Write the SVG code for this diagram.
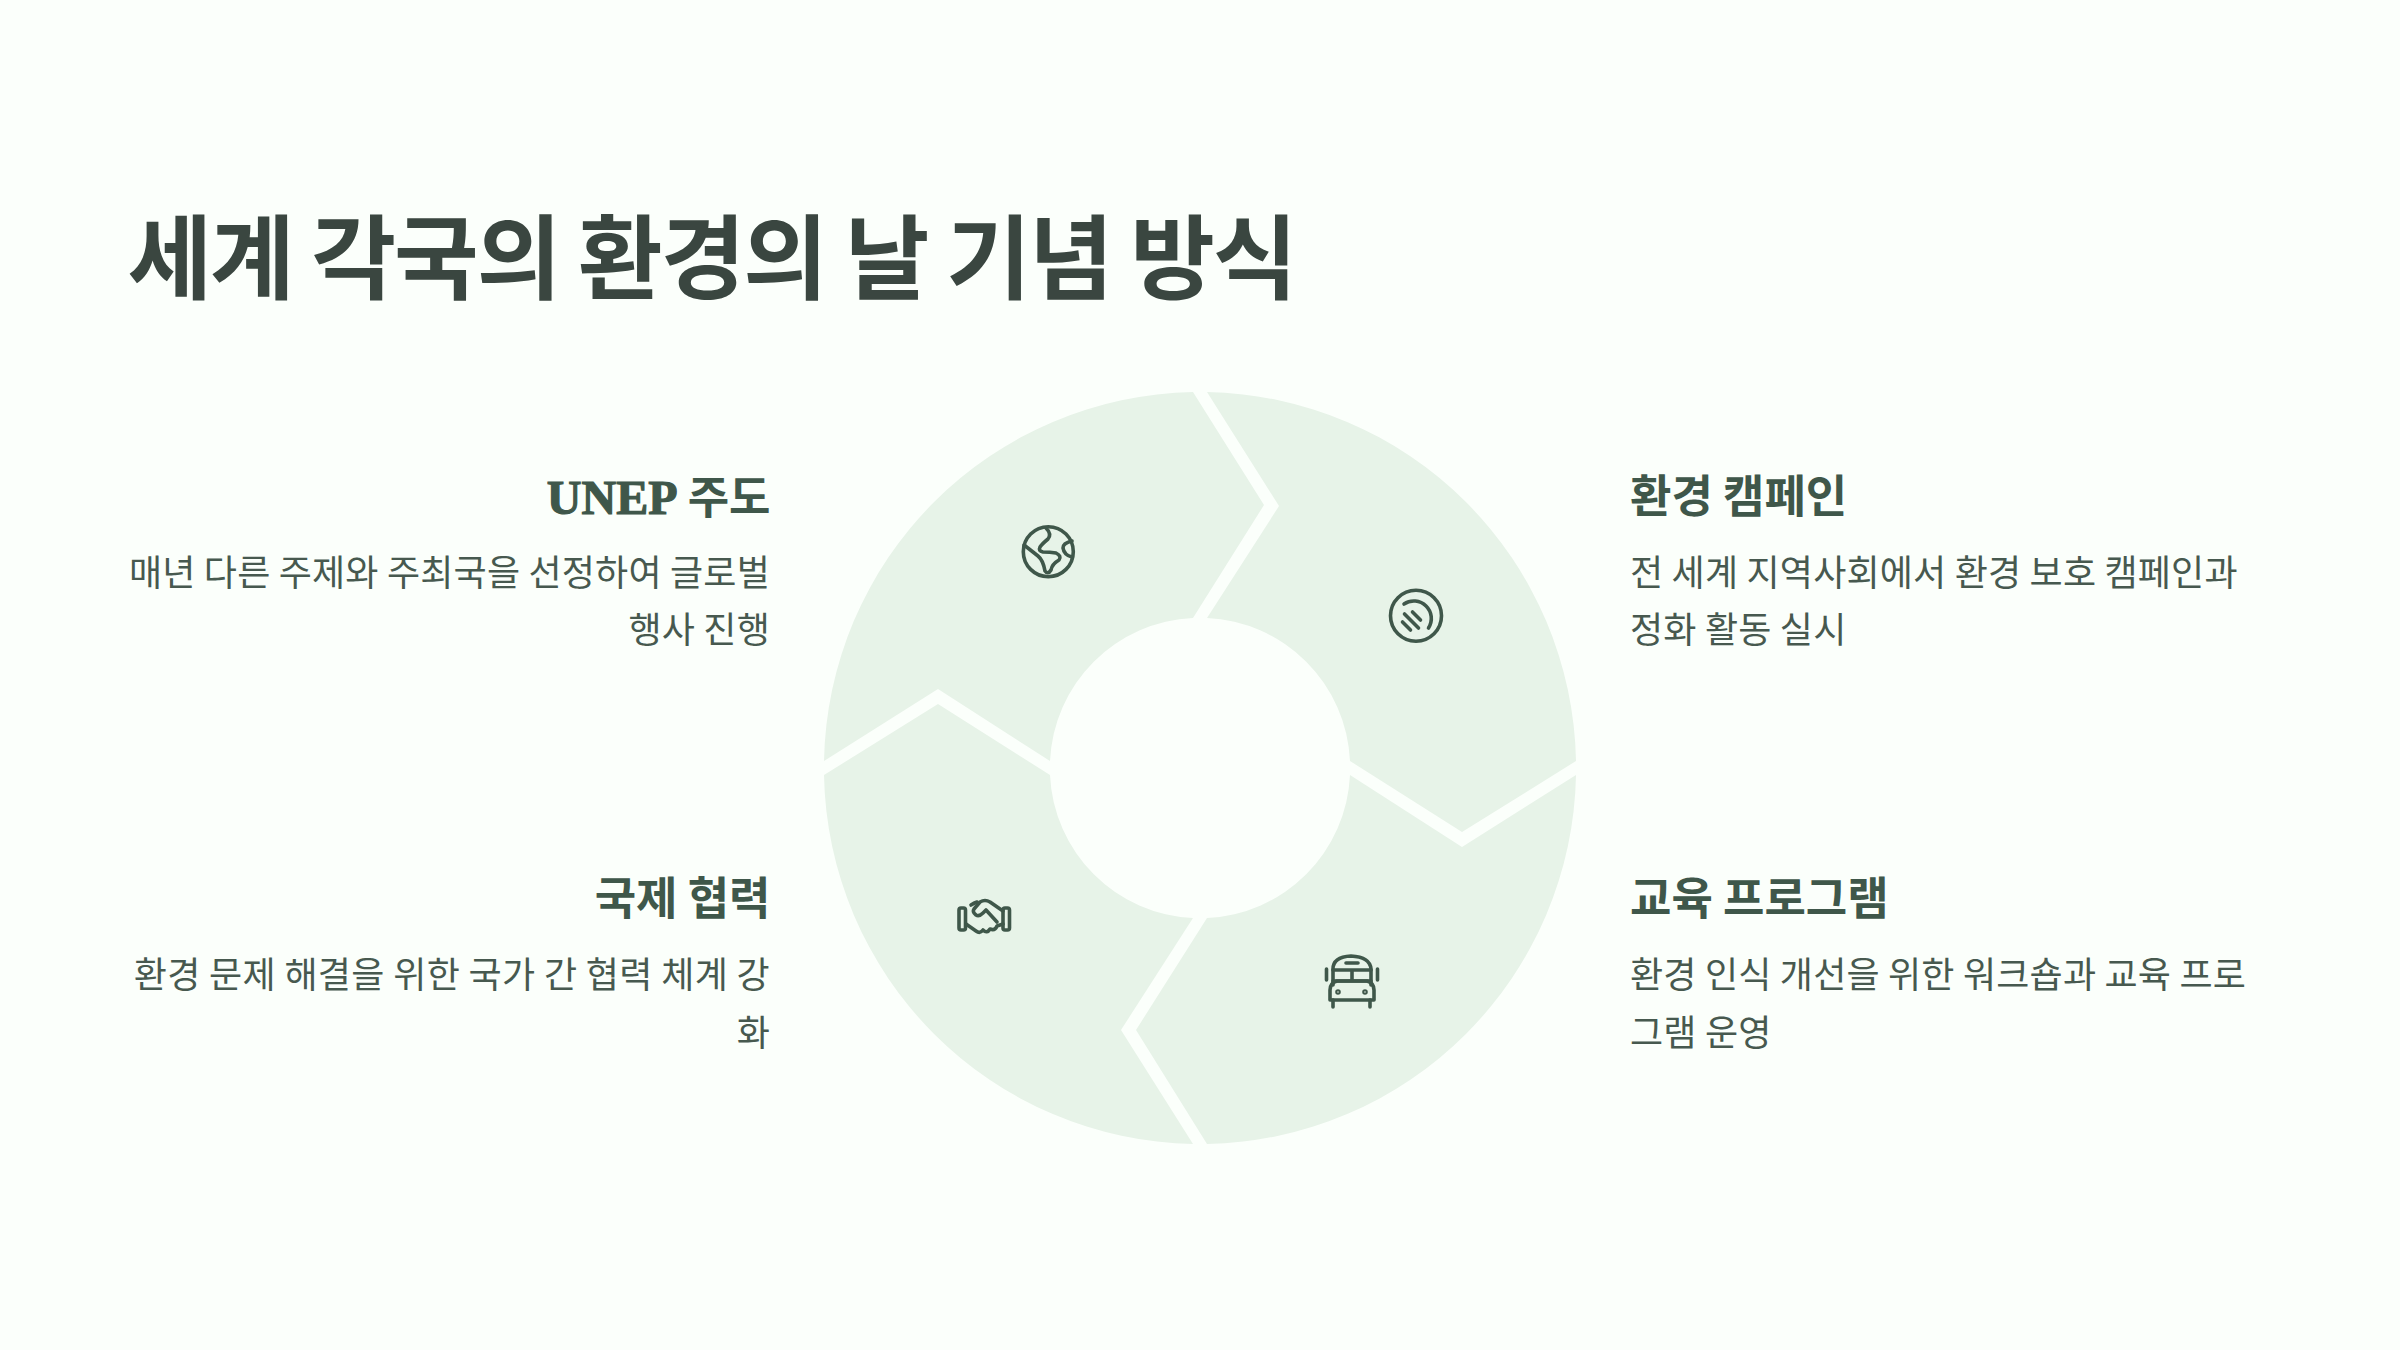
<svg xmlns="http://www.w3.org/2000/svg" width="2400" height="1350" viewBox="0 0 2400 1350">
<defs><style>
.t{font-family:"Noto Sans CJK KR","Noto Sans",sans-serif}
.title{font-size:92px;font-weight:700;fill:#3a4640;letter-spacing:-2.05px}
.h{font-size:45px;font-weight:700;fill:#3f574a}
.b{font-size:36px;font-weight:400;fill:#47594f;letter-spacing:.2px}
.s{fill:#e7f3e8}
.i{fill:none;stroke:#3f574a;stroke-width:3.6;stroke-linecap:round;stroke-linejoin:round}
.e{text-anchor:end}
.u{font-family:"Liberation Serif","Noto Sans CJK KR",serif;font-size:48px;stroke:#3f574a;stroke-width:1.2}
</style></defs>
<rect width="2400" height="1350" fill="#fbfffb"/>
<text class="t title" x="127.500" y="291.500">세계 각국의 환경의 날 기념 방식</text>
<g id="seg-unep"><path class="s" d="M1193 392L1264 505L1193 618A150 150 0 0 0 1050 761L938 689L824 761A376 376 0 0 1 1193 392Z"/>
<g class="i"><circle cx="1048.300" cy="551.700" r="25"/><path d="M1046 528Q1052 534 1048 539Q1042 544 1040 547Q1038 551 1043 552Q1050 552 1056 553Q1062 556 1059 560Q1052 564 1051 570Q1048 575 1045 571Q1043 560 1038 556Q1033 552 1024 545"/><path d="M1072 541Q1063 543 1063 548Q1064 555 1072 557"/></g></g>
<g id="seg-campaign"><path class="s" d="M1207 392L1279 506L1207 618A150 150 0 0 1 1350 761L1462 832L1576 761A376 376 0 0 0 1207 392Z"/>
<g class="i"><circle cx="1416" cy="615.700" r="25.500"/><path d="M1404 604A17.500 17.500 0 0 1 1428.500 628"/><path d="M1404.500 614L1418.500 628"/><path d="M1412.500 612L1420.500 620"/><path d="M1402.500 622L1410.500 630"/></g></g>
<g id="seg-cooperation"><path class="s" d="M824 775L938 704L1050 775A150 150 0 0 0 1193 918L1121 1030L1193 1144A376 376 0 0 1 824 775Z"/>
<g class="i"><rect x="959" y="908" width="6.500" height="22" rx="2"/><rect x="1003" y="908" width="6.500" height="22" rx="2"/><path d="M966 924L976 931Q980 934 983 930Q987 934 990 929Q995 931 997 926L1003 924"/><path d="M971 905Q974 903 977 902"/><path d="M1003 911L990 902Q985 899 980 902L974 909Q972 912 976 915Q979 917 983 913L986 910L997 922"/></g></g>
<g id="seg-education"><path class="s" d="M1207 918L1136 1030L1207 1144A376 376 0 0 0 1576 775L1462 847L1350 775A150 150 0 0 1 1207 918Z"/>
<g class="i"><path d="M1333 985V969Q1333 957 1351 956Q1370 957 1371 969V985"/><path d="M1333 970H1371M1333 981H1371M1352 970V981M1346 963H1358"/><path d="M1337 981H1367Q1374 983 1374 990V1000H1330V990Q1330 983 1337 981Z"/><path d="M1333 1000V1007M1370 1000V1007M1326.500 969V980M1377.500 969V980"/><circle cx="1338" cy="992" r="1"/><circle cx="1365" cy="992" r="1"/></g></g>
<g id="text-unep"><text class="t h e" x="770.500" y="514"><tspan class="u">UNEP</tspan> 주도</text><text class="t b e" x="770" y="586">매년 다른 주제와 주최국을 선정하여 글로벌</text><text class="t b e" x="770" y="642.500">행사 진행</text></g>
<g id="text-cooperation"><text class="t h e" x="770.500" y="915">국제 협력</text><text class="t b e" x="770" y="988" style="letter-spacing:.35px">환경 문제 해결을 위한 국가 간 협력 체계 강</text><text class="t b e" x="770" y="1045.500">화</text></g>
<g id="text-campaign"><text class="t h" x="1630" y="513">환경 캠페인</text><text class="t b" x="1630" y="586">전 세계 지역사회에서 환경 보호 캠페인과</text><text class="t b" x="1630" y="642.500">정화 활동 실시</text></g>
<g id="text-education"><text class="t h" x="1630" y="915">교육 프로그램</text><text class="t b" x="1630" y="988">환경 인식 개선을 위한 워크숍과 교육 프로</text><text class="t b" x="1630" y="1045.500">그램 운영</text></g>
</svg>
